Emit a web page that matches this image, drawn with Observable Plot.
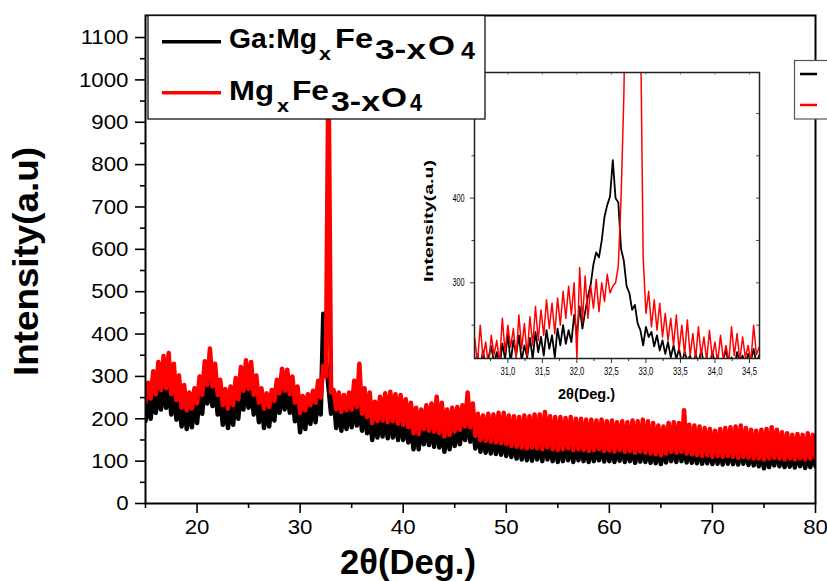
<!DOCTYPE html>
<html><head><meta charset="utf-8">
<script src="https://cdn.jsdelivr.net/npm/d3@7"></script>
<script src="https://cdn.jsdelivr.net/npm/@observablehq/plot@0.6"></script>
<style>
html,body{margin:0;padding:0;background:#fff;}
#wrap{position:relative;width:827px;height:581px;overflow:hidden;font-family:"Liberation Sans",Arial,Helvetica,sans-serif;}
#wrap svg{position:absolute;}
</style></head><body><div id="wrap"></div>
<script>
// ---------- data ----------
const seriesNames = ["Ga:MgxFe3-xO4", "MgxFe3-xO4"];
const seriesColors = ["#000000", "#ff0000"];

// main pattern, sampled every 0.25 deg from 15 to 80
const mainStart = 15, mainStep = 0.25;
const blackMain = [
195,248,200,262,214,270,222,282,226,276,210,265,198,250,182,232,176,228,180,240,
190,255,212,278,236,290,230,272,210,250,186,236,178,240,186,252,200,268,222,280,
226,276,210,258,192,240,178,232,182,245,196,262,214,272,222,270,214,258,194,236,
168,228,176,238,188,245,192,262,210,448,340,275,212,255,178,232,172,228,176,232,
180,240,184,236,172,222,166,210,150,206,156,210,158,214,154,210,156,206,150,204,
150,200,144,190,128,182,128,186,140,190,138,196,134,200,132,186,122,178,128,182,
136,186,140,192,150,212,146,184,130,172,122,168,120,166,118,164,117,162,115,160,
112,158,110,154,106,152,104,150,102,150,101,154,104,152,100,160,104,148,100,146,
98,148,100,150,102,146,98,144,102,148,100,142,98,144,100,140,102,146,99,140,
100,142,98,138,101,144,98,140,100,138,96,142,99,140,98,136,96,138,95,134,
93,136,97,140,100,138,98,150,100,136,97,134,96,132,95,134,94,130,95,132,
93,128,94,130,92,132,94,130,93,128,92,134,94,128,91,126,90,124,88,126,
83,122,86,126,90,128,88,124,86,122,87,120,85,124,88,122,84,120,86,124,
88];
const redMain = [
240,285,248,312,258,334,268,348,272,355,258,330,244,302,226,280,220,262,224,272,
236,300,256,336,280,366,276,330,256,292,232,270,224,276,232,296,246,322,266,338,
270,334,256,302,238,272,224,260,228,268,242,292,260,318,266,316,258,300,238,276,
214,254,220,258,232,266,238,290,250,325,300,1050,262,268,222,262,216,256,220,262,
222,290,228,330,212,272,204,262,190,240,194,252,196,260,192,264,194,258,188,256,
186,246,180,238,166,226,164,222,176,232,172,236,170,252,166,238,158,222,162,226,
170,228,174,232,182,262,180,236,160,212,150,208,148,212,146,210,144,214,142,214,
140,208,136,206,134,204,132,208,130,206,132,210,130,210,128,216,132,206,128,204,
126,204,128,202,130,204,126,200,128,200,126,198,124,198,126,196,128,198,124,194,
125,196,123,192,126,194,122,192,124,196,120,194,122,198,120,194,118,190,116,184,
114,182,118,190,122,192,120,190,122,220,118,186,116,184,114,182,112,178,114,176,
110,172,112,176,110,178,112,180,110,182,108,184,110,178,108,174,106,172,106,174,
104,176,106,180,108,174,106,168,104,166,106,162,104,164,106,162,104,166,106,162,
108];

// inset (zoom on the main peak), sampled every 0.04 deg from 30.52
const insetStart = 30.52, insetStep = 0.04;
const blackInset = [
205,215,198,220,200,212,225,205,218,200,
228,210,240,205,232,215,238,208,226,212,
235,210,242,218,236,214,244,222,238,212,
246,226,250,228,244,230,262,238,272,246,
266,284,298,322,336,330,350,378,392,402,
445,400,395,340,326,296,288,268,274,252,
244,226,248,236,242,225,238,220,232,216,
230,212,226,210,222,205,218,208,214,200,
216,204,220,205,212,200,218,206,214,198,
210,220,204,212,200,218,206,214,202,216,
208,222,205,214];
const redInset = [
235,205,250,212,230,200,238,215,232,205,
258,218,250,224,246,210,262,222,252,214,
260,226,272,232,268,238,280,246,276,240,
282,250,290,258,296,262,300,210,318,254,
308,258,296,270,304,266,300,278,310,288,
296,300,320,400,520,720,900,980,960,850,
620,330,264,290,248,280,244,276,236,264,
232,258,226,262,220,250,215,256,214,240,
210,248,214,236,208,244,212,230,205,238,
210,226,206,248,214,240,208,236,212,226,
206,250,215,224];

// ticks
const mainXTicks = [20,30,40,50,60,70,80];
const mainXMinor = [15,25,35,45,55,65,75];
const mainYTicks = [0,100,200,300,400,500,600,700,800,900,1000,1100];
const mainYMinor = [50,150,250,350,450,550,650,750,850,950,1050];
const insetXTicks = [31,31.5,32,32.5,33,33.5,34,34.5];
const insetXMinor = [30.75,31.25,31.75,32.25,32.75,33.25,33.75,34.25];
const insetYTicks = [300,400];
const insetYMinor = [250,350,450,500];

const xTitle = "2θ(Deg.)";
const yTitle = "Intensity(a.u)";

// legend label pieces: text and whether it is lowered (subscript-like)
const legendParts = [
  [["Ga:Mg","base"],["x","sub"],["Fe","base"],["3-x","low"],["O","mid"],["4","low"]],
  [["Mg","base"],["x","sub"],["Fe","base"],["3-x","low"],["O","mid"],["4","low"]]
];

// ---------- build rows ----------
const rows = (vals, start, step, s) => vals.map((v, i) => ({x: +(start + i*step).toFixed(3), y: v, s}));
const mainRows = [rows(blackMain, mainStart, mainStep, seriesNames[0]), rows(redMain, mainStart, mainStep, seriesNames[1])];
const insetRows = [rows(blackInset, insetStart, insetStep, seriesNames[0]), rows(redInset, insetStart, insetStep, seriesNames[1])];

const FONT = '"Liberation Sans", Arial, Helvetica, sans-serif';
const wrap = d3.select("#wrap");

// ---------- main chart ----------
const main = Plot.plot({
  width: 827, height: 581,
  marginLeft: 145, marginRight: 12, marginTop: 15, marginBottom: 78,
  style: {fontFamily: FONT, background: "transparent", overflow: "visible", color: "#000"},
  x: {domain: [15, 80], label: null},
  y: {domain: [0, 1152], label: null},
  marks: [
    Plot.line(mainRows[0], {x: "x", y: "y", stroke: seriesColors[0], strokeWidth: 4.5, clip: true}),
    Plot.line(mainRows[1], {x: "x", y: "y", stroke: seriesColors[1], strokeWidth: 4.5, clip: true}),
    Plot.axisX(mainXTicks, {tickSize: 10, tickPadding: 6, fontSize: 21, strokeWidth: 1.6, tickFormat: d => String(d), label: null}),
    Plot.axisX(mainXMinor, {tickSize: 5, tickFormat: () => "", strokeWidth: 1.6, label: null}),
    Plot.axisY(mainYTicks, {tickSize: 10, tickPadding: 7, fontSize: 21, strokeWidth: 1.6, tickFormat: d => String(d), label: null}),
    Plot.axisY(mainYMinor, {tickSize: 5, tickFormat: () => "", strokeWidth: 1.6, label: null}),
    Plot.frame({stroke: "#000", strokeWidth: 2})
  ]
});
d3.select(main).style("left", "0px").style("top", "0px");
wrap.node().appendChild(main);
const ms = d3.select(main);
ms.selectAll('g[aria-label="x-axis tick label"] text, g[aria-label="y-axis tick label"] text').each(function() {
  const n = this.getComputedTextLength();
  if (n > 0) d3.select(this).attr("textLength", n * 1.06).attr("lengthAdjust", "spacingAndGlyphs");
});
ms.append("text").attr("transform", "translate(38,261.5) rotate(-90)")
  .attr("text-anchor", "middle").attr("font-size", 35).attr("font-weight", "bold")
  .attr("font-family", FONT).attr("fill", "#000")
  .attr("textLength", 229).attr("lengthAdjust", "spacingAndGlyphs").text(yTitle);
ms.append("text").attr("x", 408).attr("y", 574)
  .attr("text-anchor", "middle").attr("font-size", 35).attr("font-weight", "bold")
  .attr("font-family", FONT).attr("fill", "#000")
  .attr("textLength", 136).attr("lengthAdjust", "spacingAndGlyphs").text(xTitle);

// ---------- inset ----------
const IW = 370, IH = 350, IL = 74, IT = 12, IR = 11, IB = 52;
const fw = IW - IL - IR, fh = IH - IT - IB;
const inset = Plot.plot({
  width: IW, height: IH,
  marginLeft: IL, marginRight: IR, marginTop: IT, marginBottom: IB,
  style: {fontFamily: FONT, background: "transparent", overflow: "visible", color: "#000"},
  x: {domain: [30.517, 34.645], label: null},
  y: {domain: [210.6, 548.4], label: null},
  marks: [
    Plot.line(insetRows[0], {x: "x", y: "y", stroke: seriesColors[0], strokeWidth: 1.8, clip: true}),
    Plot.line(insetRows[1], {x: "x", y: "y", stroke: seriesColors[1], strokeWidth: 1.5, clip: true}),
    Plot.axisX(insetXTicks, {tickSize: 5, tickPadding: 3, fontSize: 11.5, stroke: "#333", tickFormat: d => d.toFixed(1).replace(".", ","), label: null}),
    Plot.axisX(insetXMinor, {tickSize: 3, stroke: "#333", tickFormat: () => "", label: null}),
    Plot.axisY(insetYTicks, {tickSize: 4, tickPadding: 6, fontSize: 11, stroke: "#333", tickFormat: d => String(d), label: null}),
    Plot.axisY(insetYMinor, {tickSize: 2.5, stroke: "#333", tickFormat: () => "", label: null}),
    Plot.tickY(insetYTicks.concat(insetYMinor), {y: d => d, insetLeft: fw - 3, stroke: "#555"}),
    Plot.tickX(insetXTicks, {x: d => d, insetBottom: fh - 3, stroke: "#999"}),
    Plot.frame({stroke: "#222", strokeWidth: 1.5})
  ]
});
d3.select(inset).style("left", "400px").style("top", "60px");
wrap.node().appendChild(inset);
const is = d3.select(inset);
is.selectAll('g[aria-label="x-axis tick label"] text, g[aria-label="y-axis tick label"] text').each(function() {
  const n = this.getComputedTextLength();
  if (n > 0) d3.select(this).attr("textLength", n * 0.66).attr("lengthAdjust", "spacingAndGlyphs");
});
is.append("text").attr("transform", "translate(33,161) rotate(-90)")
  .attr("text-anchor", "middle").attr("font-size", 13.5).attr("font-weight", "bold")
  .attr("font-family", FONT).attr("fill", "#000")
  .attr("textLength", 122).attr("lengthAdjust", "spacingAndGlyphs").text(yTitle);
is.append("text").attr("x", 186.5).attr("y", 339)
  .attr("text-anchor", "middle").attr("font-size", 15).attr("font-weight", "bold")
  .attr("font-family", FONT).attr("fill", "#000")
  .attr("textLength", 57).attr("lengthAdjust", "spacingAndGlyphs").text(xTitle);

// ---------- legends ----------
const leg = wrap.append("svg").attr("width", 827).attr("height", 581).style("left", "0px").style("top", "0px");
leg.append("rect").attr("x", 148).attr("y", 15.5).attr("width", 337).attr("height", 103.5)
  .attr("fill", "#fff").attr("stroke", "#111").attr("stroke-width", 1.3);
// piece layout: left edge, width, font size
const pieceGeom = [
  [[229, 88, 28], [319, 12, 19], [335, 38, 28], [375, 51, 28], [428, 27, 28], [461, 14, 24]],
  [[229, 45, 28], [277, 12, 19], [292, 37, 28], [331, 49, 28], [381, 26, 28], [410, 12, 24]]
];
const drop = {base: 0, sub: 12, low: 11, mid: 7};
const lineYs = [41.7, 92.7], baseYs = [48, 100];
seriesNames.forEach((name, i) => {
  leg.append("line").attr("x1", 162).attr("x2", 221).attr("y1", lineYs[i]).attr("y2", lineYs[i])
    .attr("stroke", seriesColors[i]).attr("stroke-width", 3.5);
  legendParts[i].forEach(([t, kind], j) => {
    const [x, w, s] = pieceGeom[i][j];
    leg.append("text").attr("x", x).attr("y", baseYs[i] + drop[kind]).attr("font-size", s)
      .attr("font-weight", "bold").attr("font-family", FONT).attr("fill", "#000")
      .attr("textLength", w).attr("lengthAdjust", "spacingAndGlyphs").text(t);
  });
});
// inset legend (cut off at the right edge)
leg.append("rect").attr("x", 794.5).attr("y", 60.5).attr("width", 60).attr("height", 58.5)
  .attr("fill", "#fff").attr("stroke", "#555").attr("stroke-width", 1.2);
[74, 105].forEach((y, i) => {
  leg.append("line").attr("x1", 800).attr("x2", 817).attr("y1", y).attr("y2", y)
    .attr("stroke", seriesColors[i]).attr("stroke-width", 2.5);
});
</script></body></html>
